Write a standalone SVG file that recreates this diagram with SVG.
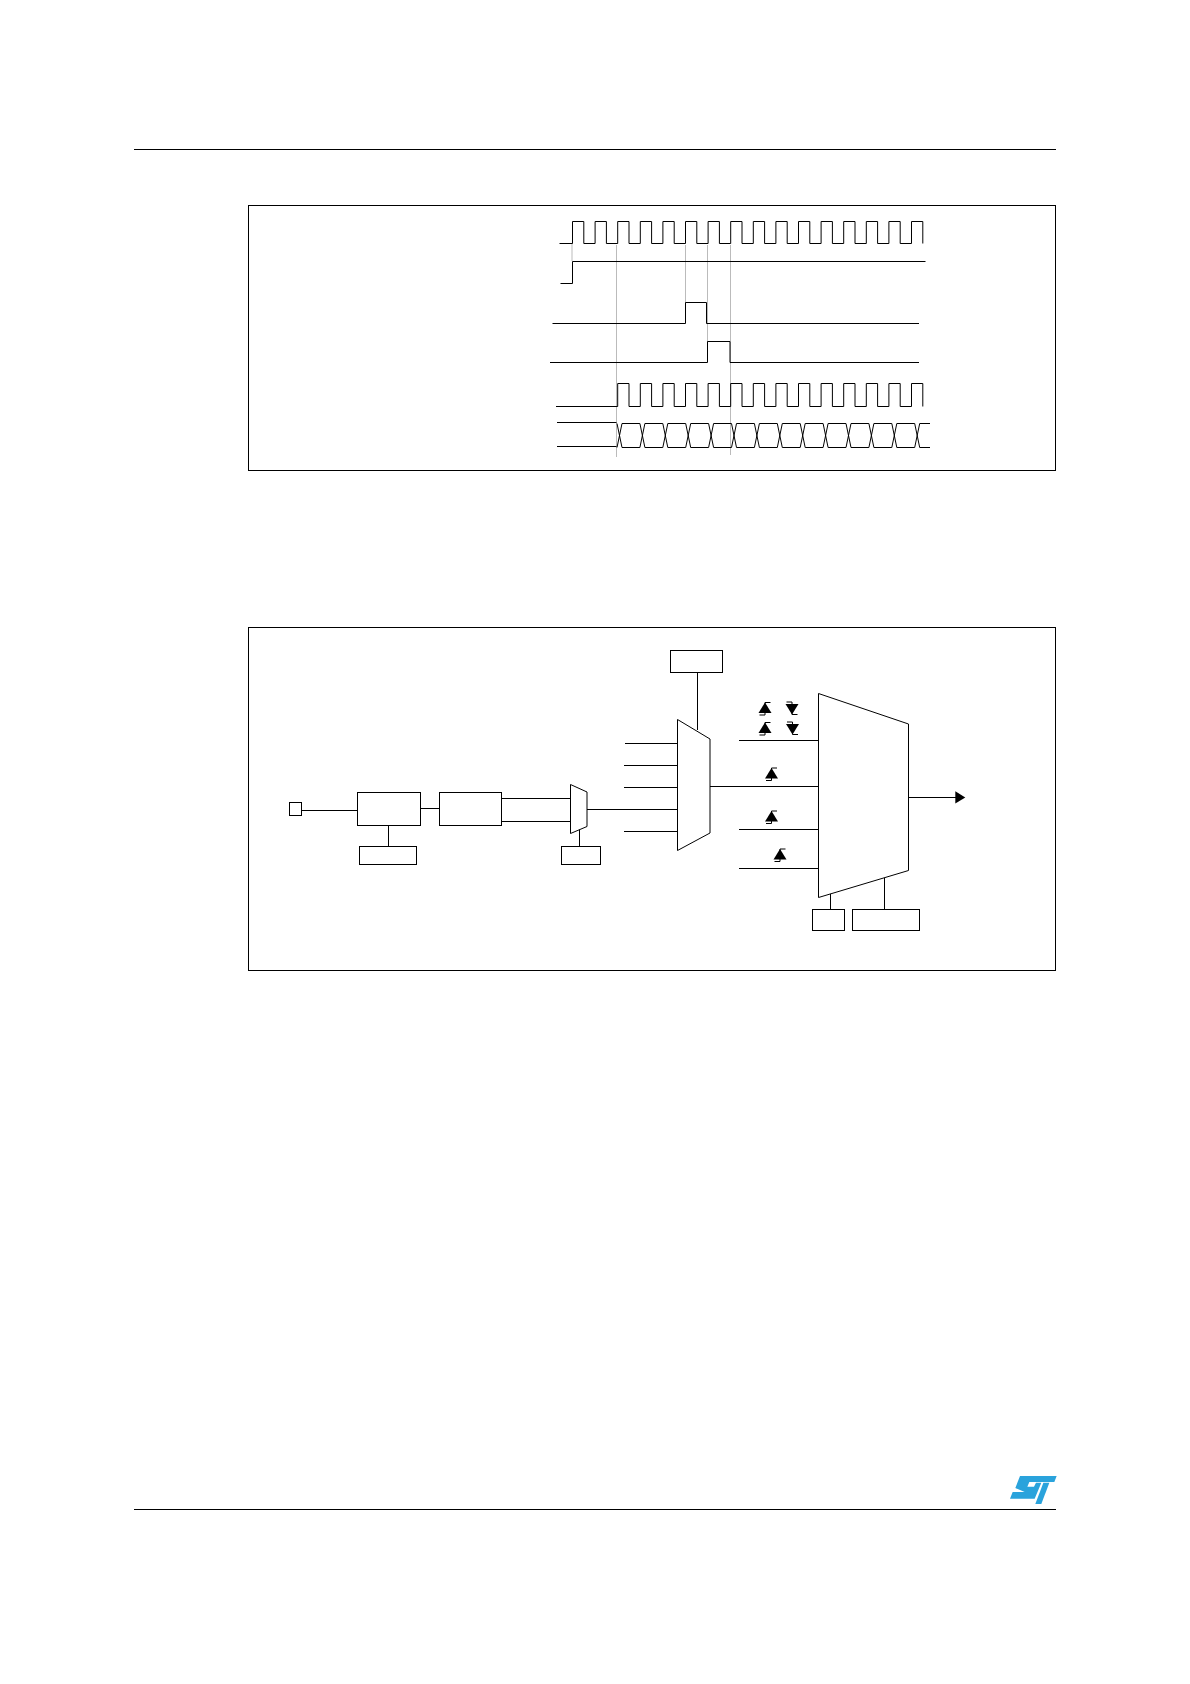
<svg xmlns="http://www.w3.org/2000/svg" xmlns:xlink="http://www.w3.org/1999/xlink" width="1190" height="1684" viewBox="0 0 1190 1684">
<style>
.l{fill:none;stroke:#000;stroke-width:1}
.b{fill:#fff;stroke:#000;stroke-width:1}
.g{fill:none;stroke:#bbb;stroke-width:1}
.s{fill:#000;stroke:none}
.st{fill:#2aa3dc;stroke:none}
</style>
<defs>
<path id="cell" class="l" d="M-2.5 -12 L2.5 12 H20.4 M-2.5 12 L2.5 -12 H20.4"/>
<g id="up"><polygon class="s" points="0,-6 -6.5,4.5 6.5,4.5"/><path class="l" d="M-5.5 6.5 H0 V-6 H5.5"/></g>
<g id="down"><polygon class="s" points="-6.5,-4.5 6.5,-4.5 0,6"/><path class="l" d="M-5.5 -6.5 H0 V6 H5.5"/></g>
</defs>
<rect width="1190" height="1684" fill="#fff"/>

<g id="page-rules">
<path class="l" d="M134 149.5 H1056 M134 1509.5 H1056"/>
</g>
<g id="logo" transform="translate(1008 1472) scale(0.3333)">
<polygon class="st" points="36,12 146,12 139,30 64,30 58,44 78,44 84,32 100,32 80,80 6,80 14,60 50,60 22,48"/>
<polygon class="st" points="106,32 124,32 100,96 82,96"/>
</g>

<g id="timing-frame"><rect class="l" x="248.5" y="205.5" width="807" height="265"/></g>
<g id="timing-guides">
<path class="g" d="M572 243.5 V261 M616.5 245 V457 M685.5 245 V323 M707.5 245 V362 M730.5 245 V455"/>
</g>
<g id="timing-signals">
<path id="clock-in" class="l" d="M559.5 243.5 H572.5 V221.5 H583.8 V243.5 H595.1 V221.5 H606.4 V243.5 H617.7 V221.5 H629 V243.5 H640.3 V221.5 H651.6 V243.5 H662.9 V221.5 H674.2 V243.5 H685.5 V221.5 H696.8 V243.5 H708.1 V221.5 H719.4 V243.5 H730.7 V221.5 H742 V243.5 H753.3 V221.5 H764.6 V243.5 H775.9 V221.5 H787.2 V243.5 H798.5 V221.5 H809.8 V243.5 H821.1 V221.5 H832.4 V243.5 H843.7 V221.5 H855 V243.5 H866.3 V221.5 H877.6 V243.5 H888.9 V221.5 H900.2 V243.5 H911.5 V221.5 H922.8 V243.5"/>
<path id="enable" class="l" d="M560.5 283.5 H572.5 V261.5 H925.5"/>
<path id="pulse-1" class="l" d="M552.5 323.5 H685.5 V302.5 H706.5 V323.5 H919"/>
<path id="pulse-2" class="l" d="M550 362.5 H707.5 V341.5 H730 V362.5 H919"/>
<path id="clock-out" class="l" d="M556 406.5 H617.7 V383.5 H629 V406.5 H640.3 V383.5 H651.6 V406.5 H662.9 V383.5 H674.2 V406.5 H685.5 V383.5 H696.8 V406.5 H708.1 V383.5 H719.4 V406.5 H730.7 V383.5 H742 V406.5 H753.3 V383.5 H764.6 V406.5 H775.9 V383.5 H787.2 V406.5 H798.5 V383.5 H809.8 V406.5 H821.1 V383.5 H832.4 V406.5 H843.7 V383.5 H855 V406.5 H866.3 V383.5 H877.6 V406.5 H888.9 V383.5 H900.2 V406.5 H911.5 V383.5 H922.8 V406.5"/>
<g id="bus">
<path class="l" d="M557 422.5 H616.5 M557 446.5 H616.5"/>
<use xlink:href="#cell" href="#cell" transform="translate(619.5 435.5)"/>
<use xlink:href="#cell" href="#cell" transform="translate(642.4 435.5)"/>
<use xlink:href="#cell" href="#cell" transform="translate(665.3 435.5)"/>
<use xlink:href="#cell" href="#cell" transform="translate(688.2 435.5)"/>
<use xlink:href="#cell" href="#cell" transform="translate(711.1 435.5)"/>
<use xlink:href="#cell" href="#cell" transform="translate(734 435.5)"/>
<use xlink:href="#cell" href="#cell" transform="translate(756.9 435.5)"/>
<use xlink:href="#cell" href="#cell" transform="translate(779.8 435.5)"/>
<use xlink:href="#cell" href="#cell" transform="translate(802.7 435.5)"/>
<use xlink:href="#cell" href="#cell" transform="translate(825.6 435.5)"/>
<use xlink:href="#cell" href="#cell" transform="translate(848.5 435.5)"/>
<use xlink:href="#cell" href="#cell" transform="translate(871.4 435.5)"/>
<use xlink:href="#cell" href="#cell" transform="translate(894.3 435.5)"/>
<path class="l" d="M914.7 423.5 L919.7 447.5 H930 M914.7 447.5 L919.7 423.5 H930"/>
</g>
</g>

<g id="block-frame"><rect class="l" x="248.5" y="627.5" width="807" height="343"/></g>

<g id="connectors">
<path class="l" d="M301.5 810.5 H357.5"/>
<path class="l" d="M420.5 808.5 H439.5"/>
<path class="l" d="M501.5 798.5 H570.5 M501.5 821.5 H570.5"/>
<path class="l" d="M587 809.5 H677.5"/>
<path class="l" d="M388.5 825 V846.5"/>
<path class="l" d="M579.5 829 V846.5"/>
<path class="l" d="M697.5 672.5 V730"/>
<path class="l" d="M625 743.5 H677.5 M624 765.5 H677.5 M624 787.5 H677.5 M624 831.5 H677.5"/>
<path class="l" d="M710 786.5 H818.5"/>
<path class="l" d="M739 740.5 H818.5 M739 829.5 H818.5 M739 868.5 H818.5"/>
<path class="l" d="M830.5 892 V909.5 M884.5 877.5 V909.5"/>
<path class="l" d="M908.5 797.5 H956"/>
<polygon class="s" points="955.3,791.3 965.3,797.5 955.3,803.4"/>
</g>

<g id="pin"><rect class="b" x="289.5" y="802.5" width="12" height="13"/></g>
<g id="filter"><rect class="b" x="357.5" y="792.5" width="63" height="33"/></g>
<g id="filter-config"><rect class="b" x="359.5" y="846.5" width="57" height="18"/></g>
<g id="edge-detector"><rect class="b" x="439.5" y="792.5" width="62" height="33"/></g>
<g id="polarity-mux"><polygon class="b" points="570.5,784.5 587,792 587,826.5 570.5,833.5"/></g>
<g id="polarity-config"><rect class="b" x="561.5" y="846.5" width="39" height="18"/></g>
<g id="select-config"><rect class="b" x="670.5" y="650.5" width="52" height="22"/></g>
<g id="input-mux"><polygon class="b" points="677.5,719.5 710,739 710,833 677.5,850.5"/></g>
<g id="mode-mux"><polygon class="b" points="818.5,693.5 908.5,724 908.5,870.5 818.5,897.5"/></g>
<g id="mode-config-a"><rect class="b" x="812.5" y="909.5" width="32" height="21"/></g>
<g id="mode-config-b"><rect class="b" x="852.5" y="909.5" width="67" height="21"/></g>

<g id="edge-marks">
<use xlink:href="#up" href="#up" transform="translate(765 708.5)"/>
<use xlink:href="#down" href="#down" transform="translate(792 708.5)"/>
<use xlink:href="#up" href="#up" transform="translate(765 728.5)"/>
<use xlink:href="#down" href="#down" transform="translate(792.5 728.5)"/>
<use xlink:href="#up" href="#up" transform="translate(771.5 774)"/>
<use xlink:href="#up" href="#up" transform="translate(771.5 817)"/>
<use xlink:href="#up" href="#up" transform="translate(780 855)"/>
</g>
</svg>
